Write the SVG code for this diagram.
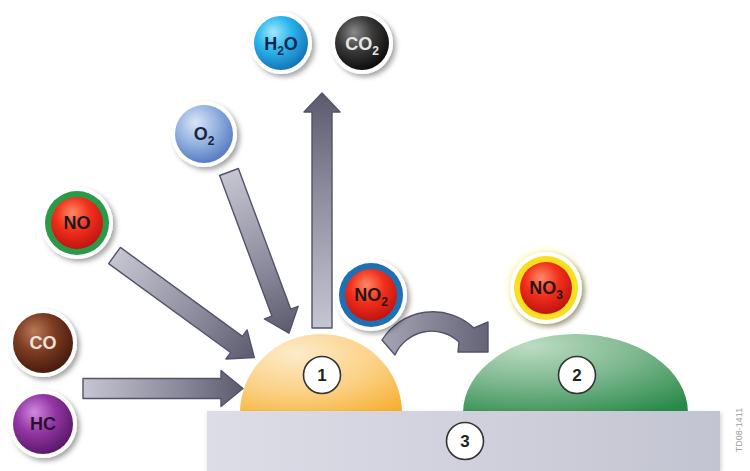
<svg xmlns="http://www.w3.org/2000/svg" width="750" height="471" viewBox="0 0 750 471">
  <defs>
    <style>
      .mol { font-family: "Liberation Sans", Arial, sans-serif; font-weight: bold; font-size: 18px; text-anchor: middle; }
      .sub { font-size: 12px; }
      .num { font-family: "Liberation Sans", Arial, sans-serif; font-weight: bold; font-size: 17px; text-anchor: middle; fill: #222; }
      .numRing { fill: #fff; stroke: #333; stroke-width: 1.6; }
      .arrow { fill: url(#arrowGrad); stroke: #52526a; stroke-width: 1.4; stroke-linejoin: round; }
      .rim { fill: #fff; filter: url(#shadow); }
    </style>
    <filter id="shadow" x="-30%" y="-30%" width="170%" height="170%">
      <feDropShadow dx="3" dy="3" stdDeviation="2.5" flood-color="#000" flood-opacity="0.35"/>
    </filter>
    <filter id="soft" x="-20%" y="-20%" width="140%" height="140%">
      <feDropShadow dx="1" dy="2" stdDeviation="2" flood-color="#000" flood-opacity="0.2"/>
    </filter>
    <filter id="glow" x="-40%" y="-40%" width="180%" height="180%">
      <feGaussianBlur stdDeviation="3"/>
    </filter>
    <linearGradient id="arrowGrad" x1="0" y1="0" x2="1" y2="0">
      <stop offset="0" stop-color="#c6c6d2"/>
      <stop offset="0.6" stop-color="#8a8a9c"/>
      <stop offset="1" stop-color="#5c5b6e"/>
    </linearGradient>
    <linearGradient id="curveGrad" gradientUnits="userSpaceOnUse" x1="382" y1="0" x2="488" y2="0">
      <stop offset="0" stop-color="#a4a4b4"/>
      <stop offset="1" stop-color="#656477"/>
    </linearGradient>
    <radialGradient id="gOrange" cx="0.35" cy="0.25" r="0.95">
      <stop offset="0" stop-color="#fdebca"/>
      <stop offset="0.55" stop-color="#fbcf80"/>
      <stop offset="1" stop-color="#f6ae2e"/>
    </radialGradient>
    <radialGradient id="gGreen" cx="0.3" cy="0.15" r="1">
      <stop offset="0" stop-color="#bcdcc2"/>
      <stop offset="0.5" stop-color="#7ab68c"/>
      <stop offset="1" stop-color="#2a8a4a"/>
    </radialGradient>
    <linearGradient id="gBase" x1="0" y1="0" x2="1" y2="0">
      <stop offset="0" stop-color="#dcdde7"/>
      <stop offset="0.5" stop-color="#d0d1dc"/>
      <stop offset="1" stop-color="#c3c4d1"/>
    </linearGradient>
    <radialGradient id="gCyan" cx="0.4" cy="0.35" r="0.65" fx="0.35" fy="0.3">
      <stop offset="0" stop-color="#a6e8ff"/>
      <stop offset="0.5" stop-color="#2bb6ee"/>
      <stop offset="1" stop-color="#1576b8"/>
    </radialGradient>
    <radialGradient id="gBlack" cx="0.4" cy="0.35" r="0.65" fx="0.35" fy="0.3">
      <stop offset="0" stop-color="#8a8a8a"/>
      <stop offset="0.5" stop-color="#3a3a3a"/>
      <stop offset="1" stop-color="#0e0e0e"/>
    </radialGradient>
    <radialGradient id="gSky" cx="0.4" cy="0.35" r="0.65" fx="0.35" fy="0.3">
      <stop offset="0" stop-color="#dbe6f6"/>
      <stop offset="0.55" stop-color="#93b2e0"/>
      <stop offset="1" stop-color="#5a7ec2"/>
    </radialGradient>
    <radialGradient id="gRed" cx="0.45" cy="0.35" r="0.65" fx="0.4" fy="0.3">
      <stop offset="0" stop-color="#ff8a66"/>
      <stop offset="0.5" stop-color="#f2301c"/>
      <stop offset="1" stop-color="#c01410"/>
    </radialGradient>
    <radialGradient id="gBrown" cx="0.4" cy="0.35" r="0.65" fx="0.35" fy="0.3">
      <stop offset="0" stop-color="#b87a58"/>
      <stop offset="0.5" stop-color="#7c3c22"/>
      <stop offset="1" stop-color="#4a1c0e"/>
    </radialGradient>
    <radialGradient id="gPurple" cx="0.4" cy="0.35" r="0.65" fx="0.35" fy="0.3">
      <stop offset="0" stop-color="#d08ade"/>
      <stop offset="0.5" stop-color="#9436a6"/>
      <stop offset="1" stop-color="#5c1a6c"/>
    </radialGradient>
  </defs>

  <rect width="750" height="471" fill="#fff"/>

  <!-- catalyst bodies -->
  <g id="dome1">
    <path d="M240,413 A81,79 0 0 1 402,413 Z" fill="url(#gOrange)"/>
    <circle class="numRing" cx="322" cy="375" r="18.5"/>
    <text class="num" x="322" y="381">1</text>
  </g>
  <g id="dome2">
    <path d="M463,413 A112.5,79 0 0 1 688,413 Z" fill="url(#gGreen)"/>
    <circle class="numRing" cx="577" cy="375" r="18.5"/>
    <text class="num" x="577" y="381">2</text>
  </g>
  <g id="substrate">
    <rect x="207" y="411" width="513" height="60" fill="url(#gBase)" filter="url(#soft)"/>
    <circle class="numRing" cx="465" cy="441" r="18.5"/>
    <text class="num" x="465" y="447">3</text>
  </g>

  <!-- flow arrows -->
  <g id="connectors">
    <path class="arrow" transform="translate(83,388.5)" d="M0,-10 H138 V-18 L160,0 L138,18 V10 H0 Z"/>
    <path class="arrow" transform="translate(114.5,255.5) rotate(36.1)" d="M0,-10 H151 V-18 L173,0 L151,18 V10 H0 Z"/>
    <path class="arrow" transform="translate(229,172) rotate(69.6)" d="M0,-10 H150 V-18 L172,0 L150,18 V10 H0 Z"/>
    <path class="arrow" transform="translate(322,328) rotate(-90)" d="M0,-10 H216 V-18 L235,0 L216,18 V10 H0 Z"/>
    <path d="M382,340 A60,60 0 0 1 474,328 L488,322 L488,352 L458,352 L459,342 A40,40 0 0 0 395,355 Z" fill="url(#curveGrad)" stroke="#52526a" stroke-width="1.4" stroke-linejoin="round"/>
  </g>

  <!-- molecules -->
  <g id="h2o">
    <circle class="rim" cx="281" cy="43" r="31"/>
    <circle cx="281" cy="43" r="27" fill="url(#gCyan)"/>
    <text class="mol" x="281" y="50" fill="#0c2a50">H<tspan class="sub" dy="5">2</tspan><tspan dy="-5">O</tspan></text>
  </g>
  <g id="co2">
    <circle class="rim" cx="362" cy="43" r="31"/>
    <circle cx="362" cy="43" r="27" fill="url(#gBlack)"/>
    <text class="mol" x="362" y="50" fill="#e6e6e6">CO<tspan class="sub" dy="5">2</tspan></text>
  </g>
  <g id="o2">
    <circle class="rim" cx="204" cy="134" r="33"/>
    <circle cx="204" cy="134" r="29" fill="url(#gSky)"/>
    <text class="mol" x="204" y="140" fill="#1a2540">O<tspan class="sub" dy="5">2</tspan></text>
  </g>
  <g id="no">
    <circle class="rim" cx="77" cy="223" r="36"/>
    <circle cx="77" cy="223" r="32" fill="#2a9a48"/>
    <circle cx="77" cy="223" r="26" fill="url(#gRed)"/>
    <text class="mol" x="77" y="229" fill="#1a1a1a">NO</text>
  </g>
  <g id="co">
    <circle class="rim" cx="43" cy="343" r="34"/>
    <circle cx="43" cy="343" r="30" fill="url(#gBrown)"/>
    <text class="mol" x="43" y="349" fill="#f2e2da">CO</text>
  </g>
  <g id="hc">
    <circle class="rim" cx="43" cy="424" r="34"/>
    <circle cx="43" cy="424" r="30" fill="url(#gPurple)"/>
    <text class="mol" x="43" y="430" fill="#2a1030">HC</text>
  </g>
  <g id="no2">
    <circle class="rim" cx="371" cy="295" r="36"/>
    <circle cx="371" cy="295" r="32" fill="#1f6fb4"/>
    <circle cx="371" cy="295" r="26" fill="url(#gRed)"/>
    <text class="mol" x="371" y="301" fill="#2a1414">NO<tspan class="sub" dy="5">2</tspan></text>
  </g>
  <g id="no3">
    <circle cx="546" cy="288" r="37" fill="#fff4a0" filter="url(#glow)"/>
    <circle class="rim" cx="546" cy="288" r="36"/>
    <circle cx="546" cy="288" r="32" fill="#f8df20"/>
    <circle cx="546" cy="288" r="26" fill="url(#gRed)"/>
    <text class="mol" x="546" y="294" fill="#2a1414">NO<tspan class="sub" dy="5">3</tspan></text>
  </g>

  <text transform="translate(742,430) rotate(-90)" font-family="Liberation Sans, Arial, sans-serif" font-size="9" fill="#a0a0a0" text-anchor="middle">TD08-1411</text>
</svg>
